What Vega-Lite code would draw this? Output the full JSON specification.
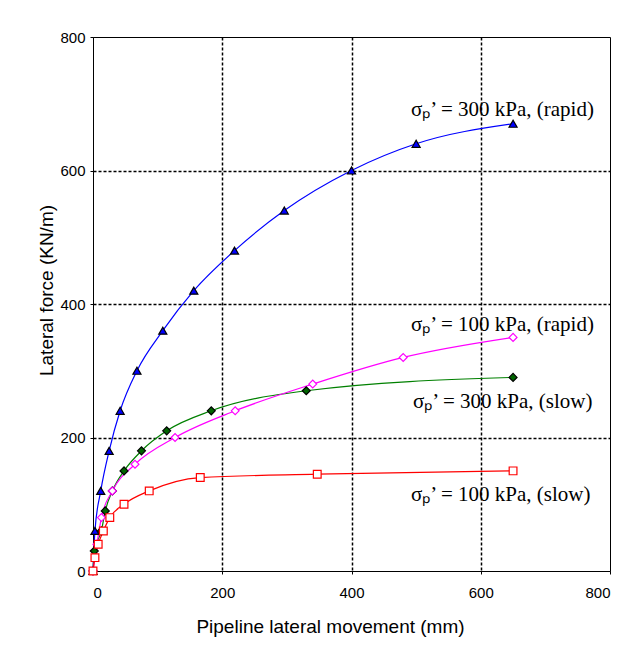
{
  "$schema": "https://vega.github.io/schema/vega-lite/v6.json",
  "autosize": {"type": "none"},
  "padding": {"left": 93, "top": 37, "right": 21, "bottom": 78},
  "width": 517,
  "height": 534,
  "background": "white",
  "config": {
    "view": {"stroke": "#000000", "strokeWidth": 1},
    "axis": {
      "labelFont": "Liberation Sans",
      "labelFontSize": 15,
      "labelColor": "#000000",
      "titleFont": "Liberation Sans",
      "titleFontSize": 19,
      "titleFontWeight": "normal",
      "titleColor": "#000000",
      "domainColor": "#000000",
      "tickColor": "#000000",
      "tickSize": 3,
      "grid": true,
      "gridColor": "#000000",
      "gridWidth": 1.5,
      "gridDash": [3, 2],
      "gridOpacity": {"condition": {"test": "datum.value === 0 || datum.value === 800", "value": 0}, "value": 1}
    }
  },
  "datasets": {
    "curves": [
      {"series": "r300", "x": 0, "y": 0},
      {"series": "r300", "x": 3, "y": 60},
      {"series": "r300", "x": 12, "y": 120},
      {"series": "r300", "x": 25, "y": 180},
      {"series": "r300", "x": 42, "y": 240},
      {"series": "r300", "x": 68, "y": 300},
      {"series": "r300", "x": 108, "y": 360},
      {"series": "r300", "x": 156, "y": 420},
      {"series": "r300", "x": 219, "y": 480},
      {"series": "r300", "x": 296, "y": 540},
      {"series": "r300", "x": 400, "y": 600},
      {"series": "r300", "x": 500, "y": 640},
      {"series": "r300", "x": 650, "y": 670},
      {"series": "s300", "x": 0, "y": 0},
      {"series": "s300", "x": 2, "y": 30},
      {"series": "s300", "x": 13, "y": 60},
      {"series": "s300", "x": 19, "y": 90},
      {"series": "s300", "x": 30, "y": 120},
      {"series": "s300", "x": 48, "y": 150},
      {"series": "s300", "x": 75, "y": 180},
      {"series": "s300", "x": 114, "y": 210},
      {"series": "s300", "x": 183, "y": 240},
      {"series": "s300", "x": 330, "y": 270},
      {"series": "s300", "x": 650, "y": 290},
      {"series": "r100", "x": 0, "y": 0},
      {"series": "r100", "x": 6, "y": 40},
      {"series": "r100", "x": 13, "y": 80},
      {"series": "r100", "x": 30, "y": 120},
      {"series": "r100", "x": 65, "y": 160},
      {"series": "r100", "x": 127, "y": 200},
      {"series": "r100", "x": 220, "y": 240},
      {"series": "r100", "x": 340, "y": 280},
      {"series": "r100", "x": 480, "y": 320},
      {"series": "r100", "x": 650, "y": 350},
      {"series": "s100", "x": 0, "y": 0},
      {"series": "s100", "x": 3, "y": 20},
      {"series": "s100", "x": 8, "y": 40},
      {"series": "s100", "x": 16, "y": 60},
      {"series": "s100", "x": 26, "y": 80},
      {"series": "s100", "x": 48, "y": 100},
      {"series": "s100", "x": 87, "y": 120},
      {"series": "s100", "x": 166, "y": 140},
      {"series": "s100", "x": 347, "y": 145},
      {"series": "s100", "x": 650, "y": 150}
    ],
    "labels": [
      {"x": 492, "y": 690, "label": "σₚ’ = 300 kPa, (rapid)"},
      {"x": 492, "y": 368, "label": "σₚ’ = 100 kPa, (rapid)"},
      {"x": 495, "y": 253, "label": "σₚ’ = 300 kPa, (slow)"},
      {"x": 492, "y": 114, "label": "σₚ’ = 100 kPa, (slow)"}
    ]
  },
  "layer": [
    {
      "data": {"name": "curves"},
      "mark": {"type": "line", "strokeWidth": 1.2, "interpolate": "monotone"},
      "encoding": {
        "x": {"field": "x", "type": "quantitative", "scale": {"domain": [0, 800], "nice": false},
              "axis": {"values": [0, 200, 400, 600, 800], "title": "Pipeline lateral movement (mm)", "labelPadding": 11,
                       "titleX": 237, "titleY": 55, "titleBaseline": "middle", "titleAlign": "center"}},
        "y": {"field": "y", "type": "quantitative", "scale": {"domain": [0, 800], "nice": false},
              "axis": {"values": [0, 200, 400, 600, 800], "title": "Lateral force (KN/m)", "labelPadding": 5,
                       "titleX": -47, "titleY": 253, "titleBaseline": "middle", "titleAlign": "center", "titleAngle": -90}},
        "detail": {"field": "series"},
        "color": {"field": "series", "type": "nominal", "legend": null,
                  "scale": {"domain": ["r300", "s300", "r100", "s100"], "range": ["#0000FF", "#008000", "#FF00FF", "#FF0000"]}}
      }
    },
    {
      "data": {"name": "curves"},
      "mark": {"type": "point", "filled": true, "strokeWidth": 1.2, "opacity": 1},
      "encoding": {
        "x": {"field": "x", "type": "quantitative"},
        "y": {"field": "y", "type": "quantitative"},
        "shape": {"field": "series", "type": "nominal", "legend": null,
                  "scale": {"domain": ["r300", "s300", "r100", "s100"], "range": ["triangle-up", "diamond", "diamond", "square"]}},
        "size": {"field": "series", "type": "nominal", "legend": null,
                 "scale": {"domain": ["r300", "s300", "r100", "s100"], "range": [65, 60, 55, 70]}},
        "fill": {"field": "series", "type": "nominal", "legend": null,
                 "scale": {"domain": ["r300", "s300", "r100", "s100"], "range": ["#0000FF", "#006400", "#FFFFFF", "#FFFFFF"]}},
        "stroke": {"field": "series", "type": "nominal", "legend": null,
                   "scale": {"domain": ["r300", "s300", "r100", "s100"], "range": ["#000000", "#000000", "#FF00FF", "#FF0000"]}}
      }
    },
    {
      "data": {"name": "labels"},
      "mark": {"type": "text", "font": "Liberation Serif", "fontSize": 21, "align": "left", "baseline": "middle", "color": "#000000"},
      "encoding": {
        "x": {"field": "x", "type": "quantitative"},
        "y": {"field": "y", "type": "quantitative"},
        "text": {"field": "label"}
      }
    }
  ]
}
